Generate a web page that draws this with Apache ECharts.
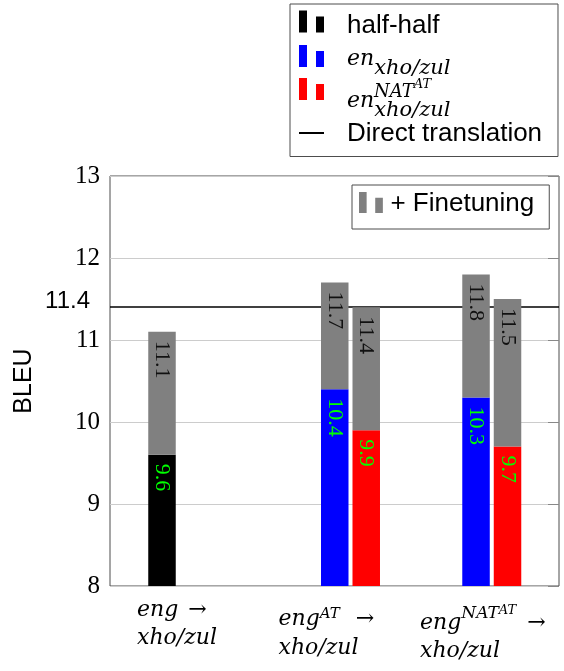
<!DOCTYPE html>
<html><head><meta charset="utf-8">
<script src="https://cdn.jsdelivr.net/npm/echarts@6/dist/echarts.min.js"></script>
<style>html,body{margin:0;padding:0;background:#fff}#c{width:564px;height:671px}</style>
</head><body><div id="c"></div>
<script>
// ---- data ----
const categories = ['eng → xho/zul', 'eng^AT → xho/zul', 'eng^NAT^AT → xho/zul'];
const halfHalfBase = [9.6, null, null];
const halfHalfFinetuned = [11.1, null, null];
const enXhoZulBase = [null, 10.4, 10.3];
const enXhoZulFinetuned = [null, 11.7, 11.8];
const enNatBase = [null, 9.9, 9.7];
const enNatFinetuned = [null, 11.4, 11.5];
const directTranslation = 11.4;
const yTicks = [8, 9, 10, 11, 12, 13];

const gain = (tot, base) => tot.map((v, i) => v == null ? null : +(v - base[i]).toFixed(3));

const SANS = 'Liberation Sans', SERIF = 'Liberation Serif', MATH = 'DejaVu Serif';
const BAR_ICON = 'path://M0,0H8V22H0ZM17,6H25V22H17Z';
const GREY = '#808080';

function tk(family, size, height, lh, italic, extra) {
  return Object.assign({fontFamily: family, fontSize: size, fontStyle: italic ? 'italic' : 'normal',
    color: '#000', verticalAlign: 'top', height: height, lineHeight: lh}, extra || {});
}
function sp(w, lh) { return {width: w, lineHeight: lh, height: lh, fontSize: 10}; }

const yMin = yTicks[0], yMax = yTicks[yTicks.length - 1], yInt = yTicks[1] - yTicks[0];

const labelFmt = [
  '{e1|eng}{p1| }{a1|→}\n{x1|xho/zul}',
  '{e2|eng}{s2|AT}{p2| }{a2|→}\n{x2|xho/zul}',
  '{e3|eng}{n3|NAT}{t3|AT}{p3| }{a3|→}\n{x3|xho/zul}'
];

function barLabel(color, values) {
  return {show: true, position: 'insideTop', distance: 9, rotate: -90, align: 'left', verticalAlign: 'middle',
    fontFamily: SERIF, fontSize: 22, color: color,
    formatter: p => values[p.dataIndex] == null ? '' : String(values[p.dataIndex])};
}

const BAR_COMMON = {type: 'bar', xAxisIndex: 1, yAxisIndex: 1, barWidth: 27.5, barGap: '14.5%', z: 10, zlevel: 1, clip: true};

const chart = echarts.init(document.getElementById('c'), null, {renderer: 'canvas'});
const option = {
  animation: false,
  backgroundColor: '#fff',
  grid: [
    {left: 110, right: 5, top: 176, bottom: 85, show: true, borderColor: '#4d4d4d', borderWidth: 1, backgroundColor: 'transparent', outerBoundsMode: 'none', containLabel: false},
    {left: 138.6, right: 1.6, top: 176, bottom: 85, outerBoundsMode: 'none', containLabel: false},
    {left: 66.25, right: 73.25, top: 176, bottom: 85, outerBoundsMode: 'none', containLabel: false}
  ],
  xAxis: [
    {gridIndex: 0, type: 'value', min: 0, max: 1, show: false},
    {gridIndex: 1, type: 'category', data: categories, show: false},
    {gridIndex: 2, type: 'category', data: categories,
      axisLine: {show: false}, axisTick: {show: false}, splitLine: {show: false},
      axisLabel: {interval: 0, align: 'left', margin: 10, color: '#000',
        formatter: (v, i) => labelFmt[i],
        rich: {
          e1: tk(MATH, 22, 28, 28, true), p1: sp(10, 28), a1: tk(MATH, 22, 28, 28, false), x1: tk(MATH, 22, 28, 28, true),
          e2: tk(MATH, 22, 46, 28, true), s2: tk(MATH, 15, 36, 28, true), p2: sp(16, 28), a2: tk(MATH, 22, 46, 28, false), x2: tk(MATH, 22, 48, 28, true),
          e3: tk(MATH, 22, 54, 28, true), n3: tk(MATH, 17, 35, 28, true), t3: tk(MATH, 13, 30, 28, true), p3: sp(11, 28), a3: tk(MATH, 22, 54, 28, false), x3: tk(MATH, 22, 54, 28, true)
        }}}
  ],
  yAxis: [
    {gridIndex: 0, type: 'value', min: yMin, max: yMax, interval: yInt,
      name: 'BLEU', nameLocation: 'middle', nameGap: 73,
      nameTextStyle: {fontFamily: SANS, fontSize: 25, color: '#000'},
      axisLine: {show: false}, axisTick: {show: false},
      axisLabel: {fontFamily: SERIF, fontSize: 25, color: '#000', margin: 10},
      splitLine: {show: true, lineStyle: {color: '#cccccc', width: 1}}},
    {gridIndex: 1, type: 'value', min: yMin, max: yMax, interval: yInt, show: false},
    {gridIndex: 2, type: 'value', min: yMin, max: yMax, interval: yInt, show: false},
    {gridIndex: 0, type: 'value', position: 'right', min: yMin, max: yMax, interval: yInt,
      axisLine: {show: false}, axisLabel: {show: false}, splitLine: {show: false},
      axisTick: {show: true, inside: true, length: 11, lineStyle: {color: '#888'}}}
  ],
  legend: [
    {left: 290, top: 4, orient: 'vertical', selectedMode: false, padding: [6.5, 118.5, 115, 9],
      borderColor: '#4d4d4d', borderWidth: 1, itemWidth: 25, itemHeight: 22,
      data: [{name: 'half-half', icon: BAR_ICON}],
      formatter: () => '{g| }{s|half-half}',
      textStyle: {rich: {g: sp(18, 22), s: tk(SANS, 26, 31, 22, false)}}},
    {left: 299, top: 45, orient: 'vertical', selectedMode: false, padding: 0, itemWidth: 25, itemHeight: 22,
      data: [{name: 'en_xho', icon: BAR_ICON}],
      formatter: () => '{g| }{en|en}{sub|xho/zul}',
      textStyle: {rich: {g: sp(18, 22), en: tk(MATH, 22, 28, 22, true), sub: tk(MATH, 21, 48, 22, true)}}},
    {left: 299, top: 78, orient: 'vertical', selectedMode: false, padding: 0, itemWidth: 25, itemHeight: 22,
      data: [{name: 'en_nat', icon: BAR_ICON}],
      formatter: () => '{g2| }{nat|NAT}{at|AT}\n{g| }{en|en}{sub|xho/zul}',
      textStyle: {rich: {g: sp(18, 11), g2: sp(45, 11),
        nat: tk(MATH, 18, 28, 11, true), at: tk(MATH, 13, 14, 11, true),
        en: tk(MATH, 22, 24, 11, true), sub: tk(MATH, 21, 44, 11, true)}}},
    {left: 299, top: 121, orient: 'vertical', selectedMode: false, padding: 0, itemWidth: 25, itemHeight: 2,
      data: [{name: 'Direct translation', icon: 'rect'}],
      formatter: () => '{g| }{s|Direct translation}',
      textStyle: {rich: {g: sp(18, 22), s: tk(SANS, 26, 24, 22, false)}}},
    {left: 352, top: 185, orient: 'vertical', selectedMode: false, padding: [5.5, 15, 12.5, 7],
      borderColor: '#4d4d4d', borderWidth: 1, itemWidth: 25, itemHeight: 21,
      data: [{name: '+ Finetuning', icon: BAR_ICON}],
      formatter: () => '{g| }{s|+ Finetuning}',
      textStyle: {rich: {g: sp(2, 21), s: tk(SANS, 26, 23, 21, false)}}}
  ],
  series: [
    {name: 'Direct translation', type: 'line', xAxisIndex: 0, yAxisIndex: 0, data: [], symbol: 'none', z: 1,
      lineStyle: {color: '#000', width: 1.5}, itemStyle: {color: '#000'},
      markLine: {silent: true, z: 1, symbol: ['none', 'none'], animation: false,
        lineStyle: {color: '#000', width: 1.5, type: 'solid'},
        label: {show: true, position: 'start', distance: 20, formatter: '{a|' + directTranslation + '}',
          rich: {a: {fontFamily: SANS, fontSize: 24, color: '#000', verticalAlign: 'top', height: 19, lineHeight: 30}}},
        emphasis: {disabled: true},
        data: [{yAxis: directTranslation}]}},
    Object.assign({name: 'half-half', stack: 'h', itemStyle: {color: '#000'}, data: halfHalfBase,
      label: barLabel('#00ff00', halfHalfBase)}, BAR_COMMON),
    Object.assign({name: '+ Finetuning', stack: 'h', itemStyle: {color: GREY}, data: gain(halfHalfFinetuned, halfHalfBase),
      label: barLabel('#111', halfHalfFinetuned)}, BAR_COMMON),
    Object.assign({name: 'en_xho', stack: 'b', itemStyle: {color: '#0000ff'}, data: enXhoZulBase,
      label: barLabel('#00ff00', enXhoZulBase)}, BAR_COMMON),
    Object.assign({name: '+ Finetuning', stack: 'b', itemStyle: {color: GREY}, data: gain(enXhoZulFinetuned, enXhoZulBase),
      label: barLabel('#111', enXhoZulFinetuned)}, BAR_COMMON),
    Object.assign({name: 'en_nat', stack: 'r', itemStyle: {color: '#ff0000'}, data: enNatBase,
      label: barLabel('#00ff00', enNatBase)}, BAR_COMMON),
    Object.assign({name: '+ Finetuning', stack: 'r', itemStyle: {color: GREY}, data: gain(enNatFinetuned, enNatBase),
      label: barLabel('#111', enNatFinetuned)}, BAR_COMMON),
    Object.assign({name: 'slot', stack: 'd', data: [null, null, null]}, BAR_COMMON)
  ]
};
chart.setOption(option);
</script>
</body></html>
